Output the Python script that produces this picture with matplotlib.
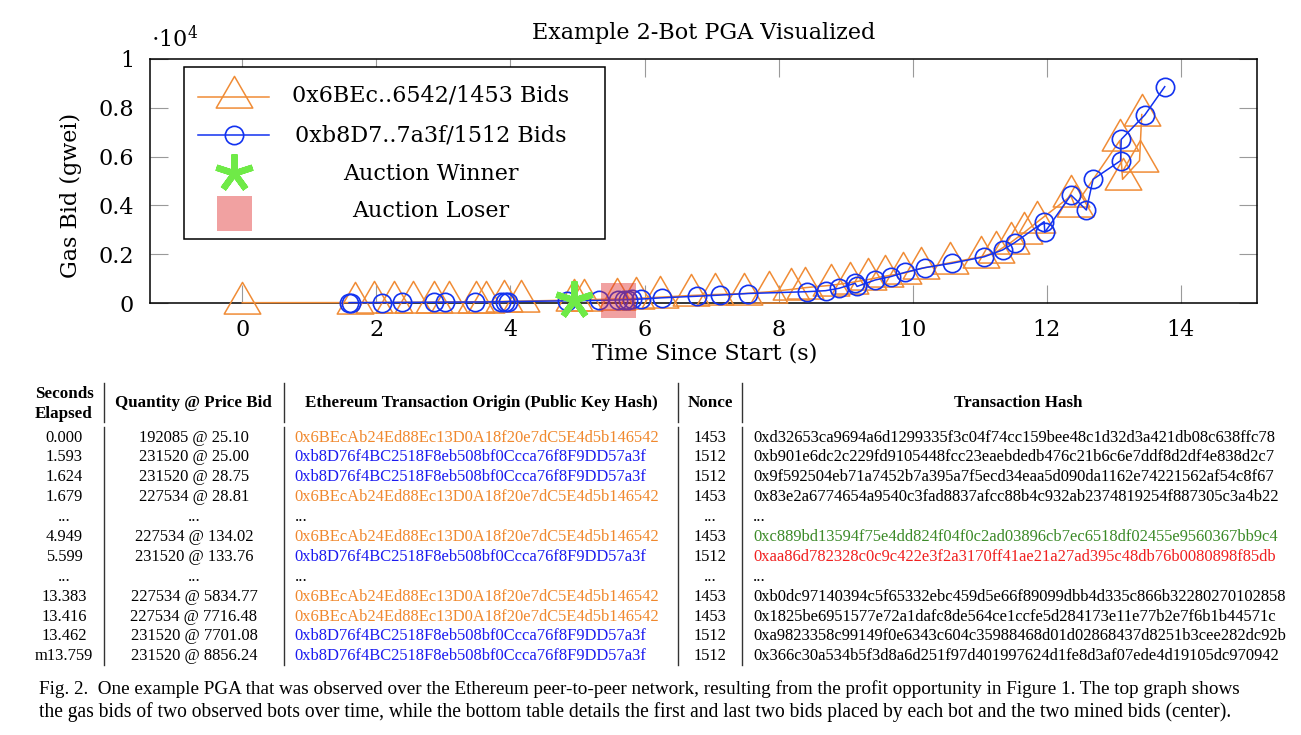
import matplotlib
matplotlib.use('Agg')
import matplotlib.pyplot as plt
from matplotlib.path import Path
from matplotlib.lines import Line2D
from matplotlib.patches import Rectangle

# ---------------- data ----------------
orange_t = [0.000, 1.679, 1.96, 2.26, 2.55, 2.86, 3.09, 3.49, 3.64, 3.91, 4.16,
            4.949, 5.10, 5.59, 5.87, 6.23, 6.70, 7.05, 7.49, 7.86, 8.18, 8.40,
            8.78, 9.07, 9.34, 9.59, 9.86, 10.13, 10.55, 11.02, 11.24, 11.46,
            11.66, 11.86, 12.36, 12.42, 13.09, 13.13, 13.383, 13.416]
orange_v = [25.10, 28.81, 33, 37, 42, 47, 53, 60, 67, 76, 88,
            134.02, 150, 172, 200, 250, 320, 360, 400, 470, 565, 640,
            735, 845, 975, 1110, 1230, 1430, 1655, 1900, 2090, 2480,
            2890, 3330, 4390, 3980, 6660, 5070, 5834.77, 7716.48]

blue_t = [1.593, 1.624, 2.09, 2.39, 2.86, 3.02, 3.47, 3.86, 3.92, 3.97, 4.85,
          5.32, 5.599, 5.69, 5.76, 5.82, 5.94, 6.26, 6.79, 7.12, 7.54, 8.43,
          8.70, 8.90, 9.14, 9.17, 9.44, 9.67, 9.89, 10.18, 10.58, 11.07, 11.34,
          11.52, 11.96, 11.97, 12.36, 12.59, 12.69, 13.10, 13.11, 13.462, 13.759]
blue_v = [25.00, 28.75, 32, 37, 42, 46, 52, 60, 66, 72, 100,
          118, 133.76, 145, 152, 160, 172, 225, 290, 335, 400, 475,
          516, 612, 820, 690, 953, 1090, 1267, 1457, 1635, 1906, 2180,
          2478, 3337, 2903, 4428, 3814, 5070, 5830, 6700, 7701.08, 8856.24]

winner_t = [4.949]
winner_v = [134.02]
loser_t = [5.599]
loser_v = [133.76]

series_labels = ['0x6BEc..6542/1453 Bids', '0xb8D7..7a3f/1512 Bids',
                 'Auction Winner', 'Auction Loser']
x_ticks = [0, 2, 4, 6, 8, 10, 12, 14]
y_ticks = [0, 2000, 4000, 6000, 8000, 10000]
y_tick_labels = ['0', '0.2', '0.4', '0.6', '0.8', '1']

ADDR_A = '0x6BEcAb24Ed88Ec13D0A18f20e7dC5E4d5b146542'
ADDR_B = '0xb8D76f4BC2518F8eb508bf0Ccca76f8F9DD57a3f'
tbl_headers = ['Seconds\nElapsed', 'Quantity @ Price Bid',
               'Ethereum Transaction Origin (Public Key Hash)', 'Nonce',
               'Transaction Hash']
tbl_seconds = ['0.000', '1.593', '1.624', '1.679', '...', '4.949', '5.599',
               '...', '13.383', '13.416', '13.462', 'm13.759']
tbl_bid = ['192085 @ 25.10', '231520 @ 25.00', '231520 @ 28.75',
           '227534 @ 28.81', '...', '227534 @ 134.02', '231520 @ 133.76',
           '...', '227534 @ 5834.77', '227534 @ 7716.48', '231520 @ 7701.08',
           '231520 @ 8856.24']
tbl_origin = [ADDR_A, ADDR_B, ADDR_B, ADDR_A, '...', ADDR_A, ADDR_B, '...',
              ADDR_A, ADDR_A, ADDR_B, ADDR_B]
tbl_nonce = ['1453', '1512', '1512', '1453', '...', '1453', '1512', '...',
             '1453', '1453', '1512', '1512']
tbl_hash = ['0xd32653ca9694a6d1299335f3c04f74cc159bee48c1d32d3a421db08c638ffc78',
            '0xb901e6dc2c229fd9105448fcc23eaebdedb476c21b6c6e7ddf8d2df4e838d2c7',
            '0x9f592504eb71a7452b7a395a7f5ecd34eaa5d090da1162e74221562af54c8f67',
            '0x83e2a6774654a9540c3fad8837afcc88b4c932ab2374819254f887305c3a4b22',
            '...',
            '0xc889bd13594f75e4dd824f04f0c2ad03896cb7ec6518df02455e9560367bb9c4',
            '0xaa86d782328c0c9c422e3f2a3170ff41ae21a27ad395c48db76b0080898f85db',
            '...',
            '0xb0dc97140394c5f65332ebc459d5e66f89099dbb4d335c866b32280270102858',
            '0x1825be6951577e72a1dafc8de564ce1ccfe5d284173e11e77b2e7f6b1b44571c',
            '0xa9823358c99149f0e6343c604c35988468d01d02868437d8251b3cee282dc92b',
            '0x366c30a534b5f3d8a6d251f97d401997624d1fe8d3af07ede4d19105dc970942']
tbl_hash_status = ['', '', '', '', '', 'win', 'lose', '', '', '', '', '']

caption = ['Fig. 2.  One example PGA that was observed over the Ethereum peer-to-peer network, resulting from the profit opportunity in Figure 1. The top graph shows',
           'the gas bids of two observed bots over time, while the bottom table details the first and last two bids placed by each bot and the two mined bids (center).']

# ---------------- style ----------------
W, H, DPI = 1301, 735, 100
ORANGE = '#F08C36'
BLUE = '#1232F0'
GREEN = '#6FEA47'
LOSER = (0.88, 0.19, 0.19, 0.45)
T_ORANGE = '#F0882D'
T_BLUE = '#1A1AF0'
T_GREEN = '#3C8A28'
T_RED = '#F02020'
CFS = 16
plt.rcParams['font.family'] = ['DejaVu Serif']
plt.rcParams['mathtext.fontset'] = 'dejavuserif'

fig = plt.figure(figsize=(W / DPI, H / DPI), dpi=DPI)
fig.patch.set_facecolor('white')


def fx(px):
    return px / W


def fy(py):
    return 1 - py / H


AX_L, AX_R, AX_T, AX_B = 150, 1257, 58.7, 303.3
ax = fig.add_axes([fx(AX_L), fy(AX_B), (AX_R - AX_L) / W, (AX_B - AX_T) / H])


def axx(px):
    return (px - AX_L) / (AX_R - AX_L)


def axy(py):
    return (AX_B - py) / (AX_B - AX_T)


tri = Path([(0, 1), (-0.866, -0.5), (0.866, -0.5), (0, 1)],
           [Path.MOVETO, Path.LINETO, Path.LINETO, Path.CLOSEPOLY])

TRI_MS, CIRC_MS = 30.4, 13.2
ax.plot(orange_t, orange_v, color=ORANGE, lw=1.1, marker=tri, ms=TRI_MS,
        mfc='none', mec=ORANGE, mew=1.1, clip_on=False, zorder=3)
ax.plot(blue_t, blue_v, color=BLUE, lw=1.1, marker='o', ms=CIRC_MS,
        mfc='none', mec=BLUE, mew=1.2, clip_on=False, zorder=4)
ax.plot(loser_t, loser_v, ls='none', marker='s', ms=25.2, mfc=LOSER,
        mew=0, clip_on=False, zorder=5)
ax.plot(winner_t, winner_v, ls='none', marker=(5, 2, 0), ms=27.4,
        color=GREEN, mec=GREEN, mew=4.6, clip_on=False, zorder=6)

ax.set_xlim(-1.376, 15.135)
ax.set_ylim(0, 10000)
ax.set_xticks(x_ticks)
ax.set_xticklabels([str(t) for t in x_ticks])
ax.set_yticks(y_ticks)
ax.set_yticklabels(y_tick_labels)
ax.tick_params(direction='in', length=13, width=0.8, color='#9a9a9a',
               top=True, right=True, labelsize=CFS, pad=11.5)
for sp in ax.spines.values():
    sp.set_linewidth(1.1)
    sp.set_color('black')

ax.set_title('Example 2-Bot PGA Visualized', fontsize=CFS, y=axy(39.3),
             pad=0, va='baseline')
ax.set_xlabel('Time Since Start (s)', fontsize=CFS, va='baseline')
ax.xaxis.set_label_coords(axx(705), axy(359))
ax.set_ylabel('Gas Bid (gwei)', fontsize=CFS, rotation=90, va='baseline',
              ha='center', rotation_mode='anchor')
ax.yaxis.set_label_coords(axx(77), axy(195.5))
fig.text(fx(151), fy(46.7), r'$\cdot 10^{4}$', fontsize=CFS, ha='left',
         va='baseline')

# ---------------- legend (manual, pgfplots style) ----------------
lb = Rectangle((axx(183.8), axy(239.3)), (604.6 - 183.8) / (AX_R - AX_L),
               (239.3 - 67.3) / (AX_B - AX_T), transform=ax.transAxes,
               facecolor='white', edgecolor='black', lw=1.1, zorder=10,
               clip_on=False)
ax.add_patch(lb)
hx0, hx1, hxc = axx(198), axx(269), axx(233.5)
rows_y = [96.5, 135, 173, 212.5]
ax.add_line(Line2D([hx0, hx1], [axy(rows_y[0])] * 2, transform=ax.transAxes,
                   color=ORANGE, lw=1.1, zorder=11))
ax.add_line(Line2D([hxc], [axy(rows_y[0])], transform=ax.transAxes, ls='none',
                   marker=tri, ms=TRI_MS, mfc='none', mec=ORANGE, mew=1.1,
                   zorder=11))
ax.add_line(Line2D([hx0, hx1], [axy(rows_y[1])] * 2, transform=ax.transAxes,
                   color=BLUE, lw=1.1, zorder=11))
ax.add_line(Line2D([hxc], [axy(rows_y[1])], transform=ax.transAxes, ls='none',
                   marker='o', ms=CIRC_MS, mfc='none', mec=BLUE, mew=1.2,
                   zorder=11))
ax.add_line(Line2D([hxc], [axy(rows_y[2])], transform=ax.transAxes, ls='none',
                   marker=(5, 2, 0), ms=27.4, color=GREEN, mec=GREEN, mew=4.6,
                   zorder=11))
ax.add_line(Line2D([hxc], [axy(rows_y[3])], transform=ax.transAxes, ls='none',
                   marker='s', ms=25.2, mfc=LOSER, mew=0, zorder=11))
text_base = [101.7, 141.7, 180, 217]
for lab, yb in zip(series_labels, text_base):
    ax.text(axx(431), axy(yb), lab, transform=ax.transAxes, ha='center',
            va='baseline', fontsize=CFS, zorder=12)

# ---------------- table ----------------
renderer = fig.canvas.get_renderer()


def fit(text, target, **kw):
    t = fig.text(0, 0, text, fontsize=10, **kw)
    w = t.get_window_extent(renderer).width
    t.remove()
    return 10 * target / w


TF = 'Liberation Serif'
body_fs = fit(ADDR_A, 366, family=TF)
head_fs = fit(tbl_headers[2], 355, family=TF, weight='bold')

col_c1, col_c2, col_l3, col_c4, col_l5 = 64, 194, 294.6, 710, 753
head_c = [64, 193.5, 481, 710, 1018]
fig.text(fx(64), fy(397.5), 'Seconds', family=TF, weight='bold',
         fontsize=head_fs, ha='center', va='baseline')
fig.text(fx(64), fy(417.5), 'Elapsed', family=TF, weight='bold',
         fontsize=head_fs, ha='center', va='baseline')
for hc, ht in zip(head_c[1:], tbl_headers[1:]):
    fig.text(fx(hc), fy(407.5), ht, family=TF, weight='bold',
             fontsize=head_fs, ha='center', va='baseline')

row_centers = [435.7 + 19.9 * i for i in range(12)]
for i, yc in enumerate(row_centers):
    yb = fy(yc + 5.8)
    fig.text(fx(col_c1), yb, tbl_seconds[i], family=TF, fontsize=body_fs,
             ha='center', va='baseline')
    fig.text(fx(col_c2), yb, tbl_bid[i], family=TF, fontsize=body_fs,
             ha='center', va='baseline')
    oc = T_ORANGE if tbl_origin[i] == ADDR_A else (T_BLUE if tbl_origin[i] == ADDR_B else 'black')
    fig.text(fx(col_l3), yb, tbl_origin[i], family=TF, fontsize=body_fs,
             ha='left', va='baseline', color=oc)
    fig.text(fx(col_c4), yb, tbl_nonce[i], family=TF, fontsize=body_fs,
             ha='center', va='baseline')
    hc = {'win': T_GREEN, 'lose': T_RED}.get(tbl_hash_status[i], 'black')
    fig.text(fx(col_l5), yb, tbl_hash[i], family=TF, fontsize=body_fs,
             ha='left', va='baseline', color=hc)

for vx in [104, 284.4, 677.8, 742.1]:
    for (y0, y1) in [(382.7, 421.7), (426.7, 665)]:
        fig.add_artist(Line2D([fx(vx), fx(vx)], [fy(y0), fy(y1)],
                              transform=fig.transFigure, color='#333333',
                              lw=1.0))

# ---------------- caption ----------------
cap_targets = [1199, 1193]
cap_base = [693.5, 716.5]
for line, tw, yb in zip(caption, cap_targets, cap_base):
    fs = fit(line, tw, family=TF)
    fig.text(fx(39), fy(yb), line, family=TF, fontsize=fs, ha='left',
             va='baseline')

fig.savefig('out.png', dpi=DPI, facecolor='white')
